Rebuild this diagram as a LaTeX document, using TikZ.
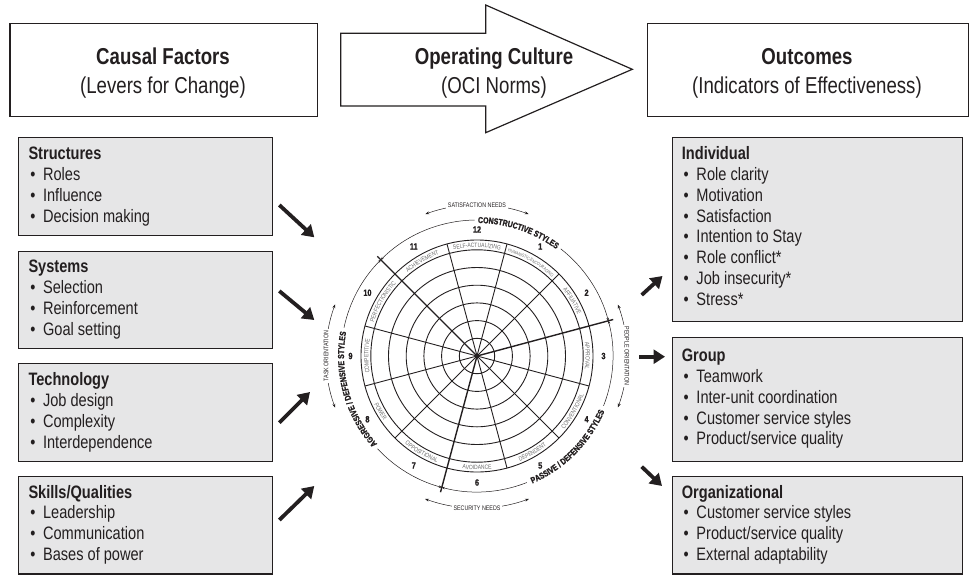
\documentclass[tikz,border=0pt]{standalone}
\usepackage{fontspec}
\setmainfont{Liberation Sans}[FakeStretch=0.81]
\newfontfamily\heavyfam{Liberation Sans}[FakeStretch=0.81,FakeBold=1.6]
\usetikzlibrary{arrows.meta,decorations.text}
\definecolor{ink}{HTML}{231F20}
\definecolor{boxgray}{HTML}{E6E6E7}
\definecolor{lblgray}{HTML}{6A6A6A}
\newcommand\hdrfont{\fontsize{23}{26}\selectfont}
\newcommand\boxfont{\fontsize{18}{21}\selectfont}
\newcommand\lblfont{\fontsize{6.2}{7}\selectfont}
\newcommand\lblsmall{\fontsize{4.5}{5}\selectfont}
\newcommand\clufont{\heavyfam\fontsize{8.6}{9}\selectfont\bfseries}
\newcommand\bul{\makebox[14.6pt][l]{\hspace{1.8pt}\textbullet}}
\begin{document}
\begin{tikzpicture}[x=1pt,y=1pt,
  hdrbox/.style={draw=ink,line width=1.2pt,fill=white,inner sep=0,anchor=north west},
  hdrarrow/.style={draw=ink,line width=1.2pt,fill=white,line join=miter},
  gbox/.style={draw=ink,line width=1.1pt,fill=boxgray,inner sep=0,anchor=north west},
  hdrtitle/.style={font=\hdrfont\bfseries,text=ink,inner sep=0,anchor=base},
  hdrsub/.style={font=\hdrfont,text=ink,inner sep=0,anchor=base},
  ttl/.style={font=\boxfont\bfseries,text=ink,inner sep=0,anchor=base west},
  itm/.style={font=\boxfont,text=ink,inner sep=0,anchor=base west},
  fatarrow/.style={draw=ink,line width=3.8pt,-{Triangle[length=11.5pt,width=14pt]}},
  ring/.style={draw=ink,line width=0.9pt},
  divider/.style={draw=ink,line width=1.4pt},
  cluarc/.style={draw=ink,line width=0.5pt},
  tipb/.style={{Stealth[length=3pt,width=2.6pt]}-},
  tipe/.style={-{Stealth[length=3pt,width=2.6pt]}},
  needarc/.style={draw=ink,line width=0.5pt,{Stealth[length=4pt,width=3pt]}-{Stealth[length=4pt,width=3pt]}},
  needtxt/.style={font=\fontsize{6.6}{7}\selectfont,text=ink,fill=white,inner sep=1.5pt},
  num/.style={font=\heavyfam\fontsize{9}{9}\selectfont\bfseries,text=ink,inner sep=0},
  lblpath/.style={decorate,decoration={text along path,text align=center,text color=lblgray,text={|\lblfont|#1}}},
  lblpathsmall/.style={decorate,decoration={text along path,text align=center,text color=lblgray,text={|\lblsmall|#1}}},
  clupath/.style={decorate,decoration={text along path,text align=center,text color=ink,text={|\clufont|#1}}}
]
\useasboundingbox (0,0) rectangle (970,-574);

% ---------- header ----------
\node[hdrbox,minimum width=307.4pt,minimum height=93pt] (cf) at (9.3,-22.7) {};
\node[hdrtitle] (cft) at (163,-64.2) {Causal Factors};
\node[hdrsub] (cfs) at (163,-93) {(Levers for Change)};

\draw[hdrarrow] (340.7,-33.3) -- (485.7,-33.3) -- (485.7,-5) -- (632.3,-69.3)
  -- (485.7,-132.7) -- (485.7,-106) -- (340.7,-106) -- cycle;
\node[hdrtitle] (oct) at (494,-64.9) {Operating Culture};
\node[hdrsub] (ocs) at (494,-93) {(OCI Norms)};

\node[hdrbox,minimum width=320.7pt,minimum height=93pt] (oc) at (647,-22.7) {};
\node[hdrtitle] (oct2) at (807,-64.2) {Outcomes};
\node[hdrsub] (ocs2) at (807,-93) {(Indicators of Effectiveness)};

% ---------- left boxes ----------
\node[gbox,minimum width=253.4pt,minimum height=98pt] (L1) at (18.3,-137.3) {};
\node[ttl] (L1t) at (28.3,-159.3) {Structures};
\node[itm] (L1a) at (28.3,-180.2) {\bul Roles};
\node[itm] (L1b) at (28.3,-201.1) {\bul Influence};
\node[itm] (L1c) at (28.3,-222.0) {\bul Decision making};

\node[gbox,minimum width=253.4pt,minimum height=97.6pt] (L2) at (18.3,-250.7) {};
\node[ttl] (L2t) at (28.3,-272.7) {Systems};
\node[itm] (L2a) at (28.3,-293.6) {\bul Selection};
\node[itm] (L2b) at (28.3,-314.5) {\bul Reinforcement};
\node[itm] (L2c) at (28.3,-335.4) {\bul Goal setting};

\node[gbox,minimum width=253.4pt,minimum height=97.7pt] (L3) at (18.3,-363.3) {};
\node[ttl] (L3t) at (28.3,-385.3) {Technology};
\node[itm] (L3a) at (28.3,-406.2) {\bul Job design};
\node[itm] (L3b) at (28.3,-427.1) {\bul Complexity};
\node[itm] (L3c) at (28.3,-448.0) {\bul Interdependence};

\node[gbox,minimum width=253.4pt,minimum height=97.4pt] (L4) at (18.3,-476) {};
\node[ttl] (L4t) at (28.3,-498) {Skills/Qualities};
\node[itm] (L4a) at (28.3,-518.9) {\bul Leadership};
\node[itm] (L4b) at (28.3,-539.8) {\bul Communication};
\node[itm] (L4c) at (28.3,-560.7) {\bul Bases of power};

% ---------- right boxes ----------
\node[gbox,minimum width=290.6pt,minimum height=183.4pt] (R1) at (671.7,-137.3) {};
\node[ttl] (R1t) at (681.7,-159.5) {Individual};
\foreach \txt [count=\i] in {Role clarity,Motivation,Satisfaction,Intention to Stay,Role conflict*,Job insecurity*,Stress*}
  \node[itm] (R1i\i) at (681.7,{-159.5-20.85*\i}) {\bul \txt};

\node[gbox,minimum width=290.6pt,minimum height=123.7pt] (R2) at (671.7,-337.3) {};
\node[ttl] (R2t) at (681.7,-361.5) {Group};
\foreach \txt [count=\i] in {Teamwork,Inter-unit coordination,Customer service styles,Product/service quality}
  \node[itm] (R2i\i) at (681.7,{-361.5-20.85*\i}) {\bul \txt};

\node[gbox,minimum width=290.6pt,minimum height=97.4pt] (R3) at (671.7,-476) {};
\node[ttl] (R3t) at (681.7,-498) {Organizational};
\foreach \txt [count=\i] in {Customer service styles,Product/service quality,External adaptability}
  \node[itm] (R3i\i) at (681.7,{-498-20.85*\i}) {\bul \txt};

% ---------- fat arrows ----------
\coordinate (la1s) at (279.3,-205);   \coordinate (la1e) at (314.3,-237.3);
\coordinate (la2s) at (279.3,-291);   \coordinate (la2e) at (314.3,-320);
\coordinate (la3s) at (279.3,-422.7); \coordinate (la3e) at (310,-392);
\coordinate (la4s) at (279.3,-520);   \coordinate (la4e) at (314.3,-486);
\coordinate (ra1s) at (641.7,-295);   \coordinate (ra1e) at (662.5,-276);
\coordinate (ra2s) at (639.3,-356.7); \coordinate (ra2e) at (665,-356.7);
\coordinate (ra3s) at (641.7,-466.7); \coordinate (ra3e) at (662,-486);
\foreach \a in {la1,la2,la3,la4,ra1,ra2,ra3}
  \draw[fatarrow] (\a s) -- (\a e);

% ---------- circumplex ----------
\begin{scope}[shift={(477,-356)}]
  \foreach \r in {17.7,35.4,53.1,70.8,88.5,106.2,116}
    \draw[ring] (0,0) circle (\r);
  \foreach \a in {45,75,105,165,195,225,285,315,345}
    \draw[ring] (0,0) -- (\a:116);
  \foreach \a in {15,135,255}
    \draw[divider] (0,0) -- (\a:141);
  \fill[ink] (0,0) circle (2.4);

  % style numbers
  \foreach \n in {1,...,12}
    \node[num] (n\n) at ({90-30*\n}:126.5) {\n};

  % style names (top half: tops outward, bottom half: tops inward)
  \path[lblpath=SELF-ACTUALIZING] (105:108.6) arc[start angle=105,end angle=75,radius=108.6];
  \path[lblpathsmall=HUMANISTIC-ENCOURAGING] (75:108.8) arc[start angle=75,end angle=45,radius=108.8];
  \path[lblpath=AFFILIATIVE] (45:108.6) arc[start angle=45,end angle=15,radius=108.6];
  \path[lblpath=APPROVAL] (15:108.6) arc[start angle=15,end angle=-15,radius=108.6];
  \path[lblpath=CONVENTIONAL] (-45:113.6) arc[start angle=-45,end angle=-15,radius=113.6];
  \path[lblpath=DEPENDENT] (-75:113.6) arc[start angle=-75,end angle=-45,radius=113.6];
  \path[lblpath=AVOIDANCE] (-105:113.6) arc[start angle=-105,end angle=-75,radius=113.6];
  \path[lblpath=OPPOSITIONAL] (-135:113.6) arc[start angle=-135,end angle=-105,radius=113.6];
  \path[lblpath=POWER] (-165:113.6) arc[start angle=-165,end angle=-135,radius=113.6];
  \path[lblpath=COMPETITIVE] (195:108.6) arc[start angle=195,end angle=165,radius=108.6];
  \path[lblpath=PERFECTIONISTIC] (165:108.6) arc[start angle=165,end angle=135,radius=108.6];
  \path[lblpath=ACHIEVEMENT] (135:108.6) arc[start angle=135,end angle=105,radius=108.6];

  % cluster arcs
  \draw[cluarc,tipb] (135:136) arc[start angle=135,end angle=91,radius=136];
  \draw[cluarc,tipe] (52:136) arc[start angle=52,end angle=15,radius=136];
  \draw[cluarc,tipb] (15:136) arc[start angle=15,end angle=-21.5,radius=136];
  \draw[cluarc,tipe] (-68.5:136) arc[start angle=-68.5,end angle=-105,radius=136];
  \draw[cluarc,tipb] (255:136) arc[start angle=255,end angle=223,radius=136];
  \draw[cluarc,tipe] (168:136) arc[start angle=168,end angle=135,radius=136];

  \path[clupath=CONSTRUCTIVE STYLES] (95:133) arc[start angle=95,end angle=48,radius=133];
  \path[clupath=PASSIVE / DEFENSIVE STYLES] (-72:139) arc[start angle=-72,end angle=-18,radius=139];
  \path[clupath=AGGRESSIVE / DEFENSIVE STYLES] (228:133) arc[start angle=228,end angle=163,radius=133];

  % needs / orientation arcs
  \draw[needarc] (110:151) arc[start angle=110,end angle=70,radius=151];
  \node[needtxt] (sat) at (90:151) {SATISFACTION NEEDS};
  \draw[needarc] (250:152) arc[start angle=250,end angle=290,radius=152];
  \node[needtxt] (sec) at (270:152) {SECURITY NEEDS};
  \draw[needarc] (160:151) arc[start angle=160,end angle=200,radius=151];
  \node[needtxt,rotate=90] (task) at (180:151) {TASK ORIENTATION};
  \draw[needarc] (20:150) arc[start angle=20,end angle=-20,radius=150];
  \node[needtxt,rotate=-90] (people) at (0:150) {PEOPLE ORIENTATION};
\end{scope}
\end{tikzpicture}
\end{document}
